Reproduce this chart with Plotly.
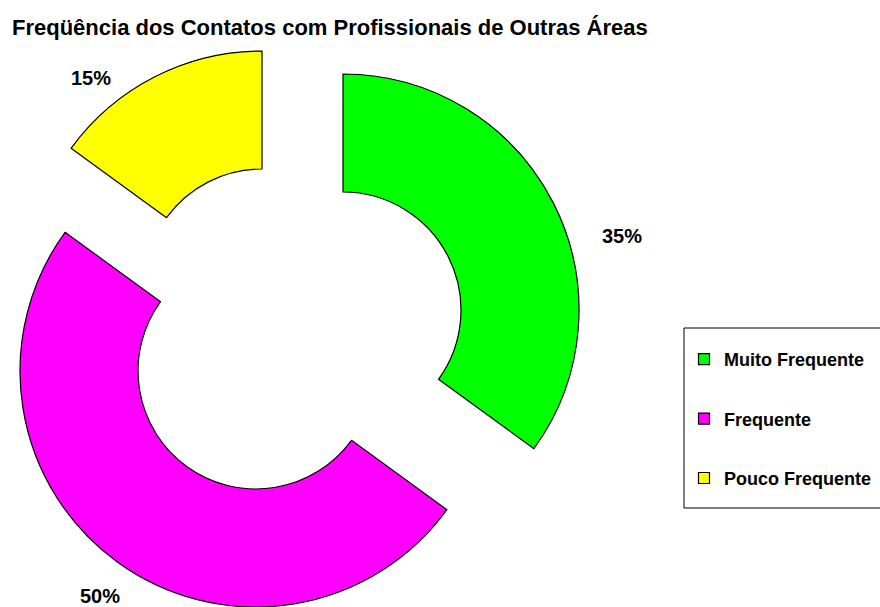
import plotly.graph_objects as go

# ---- data ----
categories = ["Muito Frequente", "Frequente", "Pouco Frequente"]
values = [35, 50, 15]
colors = ["#00FF00", "#FF00FF", "#FFFF00"]
title_text = "Freqüência dos Contatos com Profissionais de Outras Áreas"

# ---- layout constants (pixels) ----
W, H = 880, 607
R = 236          # outer radius of the ring
HOLE = 0.5
# centre of every exploded slice (same order as categories)
slice_centers = [(343, 310), (256, 371), (262, 287)]
label_pos = [(622, 236), (100, 596), (91, 78)]
FONT = "Liberation Sans, Arial, sans-serif"

fig = go.Figure()

total = sum(values)
for i, (cx, cy) in enumerate(slice_centers):
    n = len(categories)
    dom_x = [max(0.0, (cx - R) / W), min(1.0, (cx + R) / W)]
    dom_y = [max(0.0, 1 - (cy + R) / H), min(1.0, 1 - (cy - R) / H)]
    fig.add_trace(go.Pie(
        labels=categories,
        values=values,
        sort=False,
        direction="clockwise",
        rotation=0,
        hole=HOLE,
        marker=dict(
            colors=[colors[j] if j == i else "rgba(0,0,0,0)" for j in range(n)],
            line=dict(
                color=["black" if j == i else "rgba(0,0,0,0)" for j in range(n)],
                width=[1.2 if j == i else 0 for j in range(n)],
            ),
        ),
        textinfo="none",
        hoverinfo="skip",
        showlegend=False,
        domain=dict(x=dom_x, y=dom_y),
    ))

# legend entries
for cat, col in zip(categories, colors):
    fig.add_trace(go.Scatter(
        x=[None], y=[None], mode="markers", name=cat, legendgroup=cat,
        marker=dict(symbol="square", size=11, color=col,
                    line=dict(color="black", width=1.2)),
        hoverinfo="skip",
    ))

annotations = []
for v, (px, py) in zip(values, label_pos):
    annotations.append(dict(
        text=f"{round(v * 100 / total)}%",
        x=px / W, y=1 - py / H, xref="paper", yref="paper",
        xanchor="center", yanchor="middle", showarrow=False,
        font=dict(family=FONT, size=20, color="black", weight="bold"),
    ))

fig.update_layout(
    width=W, height=H,
    margin=dict(l=0, r=0, t=0, b=0, autoexpand=False),
    paper_bgcolor="white", plot_bgcolor="white",
    xaxis=dict(visible=False), yaxis=dict(visible=False),
    title=dict(text=title_text, x=12 / W, xanchor="left", xref="paper",
               y=1 - 27 / H, yref="container", yanchor="middle",
               font=dict(family=FONT, size=22, color="black", weight="bold")),
    legend=dict(x=684 / W, xanchor="left", y=1 - 341 / H, yanchor="top",
                traceorder="grouped", tracegroupgap=33,
                bgcolor="rgba(0,0,0,0)", borderwidth=0,
                font=dict(family=FONT, size=18, color="black", weight="bold")),
    shapes=[dict(type="rect", xref="paper", yref="paper",
                 x0=684 / W, x1=890 / W, y0=1 - 508 / H, y1=1 - 328 / H,
                 line=dict(color="black", width=1), fillcolor="rgba(0,0,0,0)")],
    annotations=annotations,
)

fig.write_html(
    "out.html",
    config={"displayModeBar": False},
    post_script="document.body.style.margin='0';document.body.style.overflow='hidden';",
)
